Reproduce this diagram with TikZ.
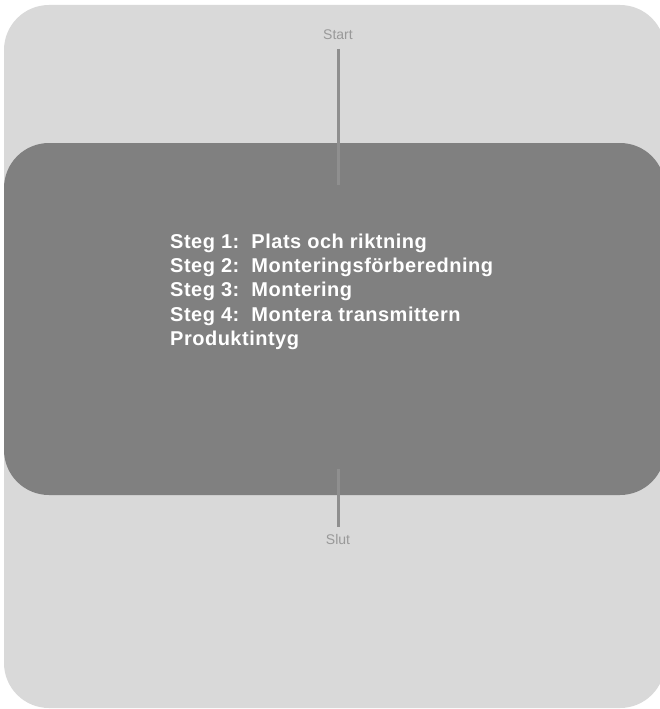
\documentclass[tikz,border=0pt]{standalone}
\usepackage{fontspec}
\setmainfont{Liberation Sans}
\newfontfamily\stepfont[LetterSpace=2.5]{Liberation Sans}
\definecolor{bglight}{HTML}{D9D9D9}
\definecolor{bgdark}{HTML}{808080}
\definecolor{linegray}{HTML}{8F8F8F}
\definecolor{labelgray}{HTML}{999999}
\begin{document}
\begin{tikzpicture}[x=1pt,y=-1pt,
  term/.style={text=labelgray,font=\fontsize{14}{16}\selectfont,inner sep=0pt},
  steptext/.style={text=white,font=\stepfont\bfseries\fontsize{20}{24}\selectfont,anchor=west,inner sep=0pt},
  conn/.style={draw=linegray,line width=3pt}]
\useasboundingbox (0,0) rectangle (660,709);
\clip (0,0) rectangle (660,709);
\fill[bglight,rounded corners=45pt] (4,5) rectangle (665,708);
\fill[bgdark,rounded corners=45pt] (4,143) rectangle (665,495);
\node[term] (start) at (338,35) {Start};
\node[term] (slut) at (338,539) {Slut};
\coordinate (startbeg) at (338,49);
\coordinate (startend) at (338,185);
\coordinate (slutbeg) at (338,469);
\coordinate (slutend) at (338,527);
\draw[conn] (startbeg) -- (startend);
\draw[conn] (slutbeg) -- (slutend);
\node[steptext] (s1) at (170,243) {Steg 1:\ \ Plats och riktning};
\node[steptext] (s2) at (170,267) {Steg 2:\ \ Monteringsförberedning};
\node[steptext] (s3) at (170,291) {Steg 3:\ \ Montering};
\node[steptext] (s4) at (170,316) {Steg 4:\ \ Montera transmittern};
\node[steptext] (s5) at (170,340) {Produktintyg};
\end{tikzpicture}
\end{document}
